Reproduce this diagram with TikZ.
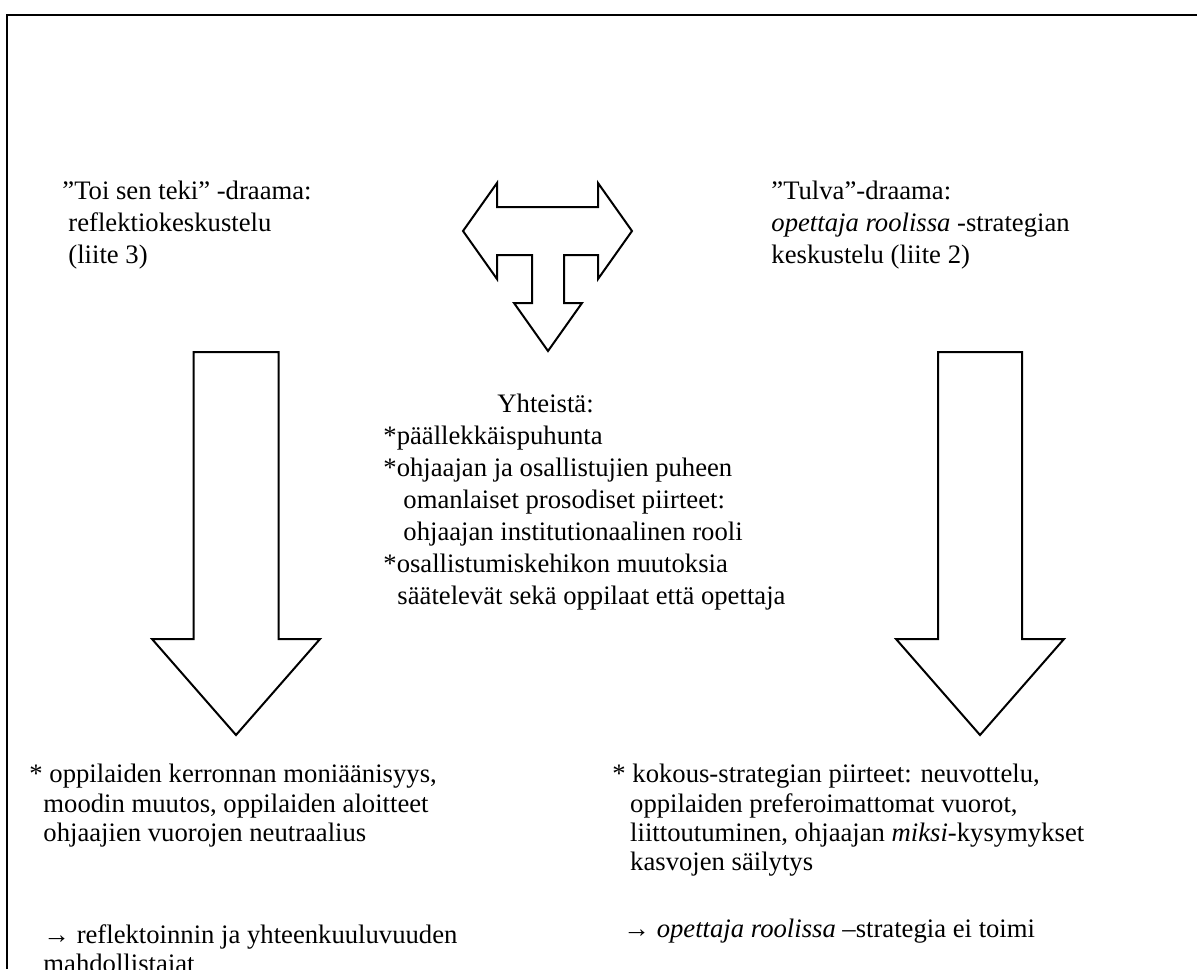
\documentclass[tikz,border=0pt]{standalone}
\usepackage{fontspec}
\setmainfont{Liberation Serif}
\usepackage{tikz}
\tikzset{
  txtblock/.style={
    anchor=north west, align=left, inner sep=0pt,
    font=\fontsize{12}{14.4}\selectfont
  },
  txttight/.style={txtblock, font=\fontsize{12}{13.2}\selectfont},
  bigarr/.style={draw=black, line width=0.9pt, line join=miter, fill=white},
  frameline/.style={draw=black, line width=1.1pt}
}

\begin{document}
\begin{tikzpicture}[x=0.45pt, y=-0.45pt]
  \useasboundingbox (0,0) rectangle (1197,969);
  \draw[frameline] (7,969) -- (7,15) -- (1197,15);
  % block arrows
  \draw[bigarr] (463,231) -- (497,183) -- (497,207) -- (598,207) -- (598,183)
    -- (632,231) -- (598,279) -- (598,255) -- (564,255) -- (564,303) -- (582,303)
    -- (548,351) -- (514,303) -- (532,303) -- (532,255) -- (497,255) -- (497,279) -- cycle;
  \draw[bigarr] (193.5,352) -- (278.5,352) -- (278.5,639) -- (320,639) -- (236,735)
    -- (152,639) -- (193.5,639) -- cycle;
  \draw[bigarr] (938,352) -- (1022,352) -- (1022,639) -- (1064,639) -- (980,735)
    -- (896,639) -- (938,639) -- cycle;

  \node[txtblock] (toiTitle) at (62,181)
    {”Toi sen teki” -draama:\\ \hspace*{2.7pt}reflektiokeskustelu\\ \hspace*{2.7pt}(liite 3)};
  \node[txtblock] (tulvaTitle) at (771,181)
    {”Tulva”-draama:\\ \textit{opettaja roolissa} -strategian\\ keskustelu (liite 2)};
  \node[txtblock] (common) at (383,394)
    {\hspace*{51.3pt}Yhteistä:\\ *päällekkäispuhunta\\ *ohjaajan ja osallistujien puheen\\
     \hspace*{9pt}omanlaiset prosodiset piirteet:\\ \hspace*{9pt}ohjaajan institutionaalinen rooli\\
     *osallistumiskehikon muutoksia\\ \hspace*{6.3pt}säätelevät sekä oppilaat että opettaja};
  \node[txttight] (toiResult) at (29,764)
    {* oppilaiden kerronnan moniäänisyys,\\ \hspace*{6.3pt}moodin muutos, oppilaiden aloitteet\\
     \hspace*{6.3pt}ohjaajien vuorojen neutraalius};
  \node[txttight] (toiOutcome) at (43,924)
    {→ reflektoinnin ja yhteenkuuluvuuden\\ mahdollistajat};
  \node[txttight] (tulvaResult) at (612,764)
    {* kokous-strategian piirteet: neuvottelu,\\ \hspace*{8pt}oppilaiden preferoimattomat vuorot,\\
     \hspace*{8pt}liittoutuminen, ohjaajan \textit{miksi}-kysymykset\\ \hspace*{8pt}kasvojen säilytys};
  \node[txttight] (tulvaOutcome) at (623,919)
    {→ \textit{opettaja roolissa} –strategia ei toimi};
\end{tikzpicture}
\end{document}
